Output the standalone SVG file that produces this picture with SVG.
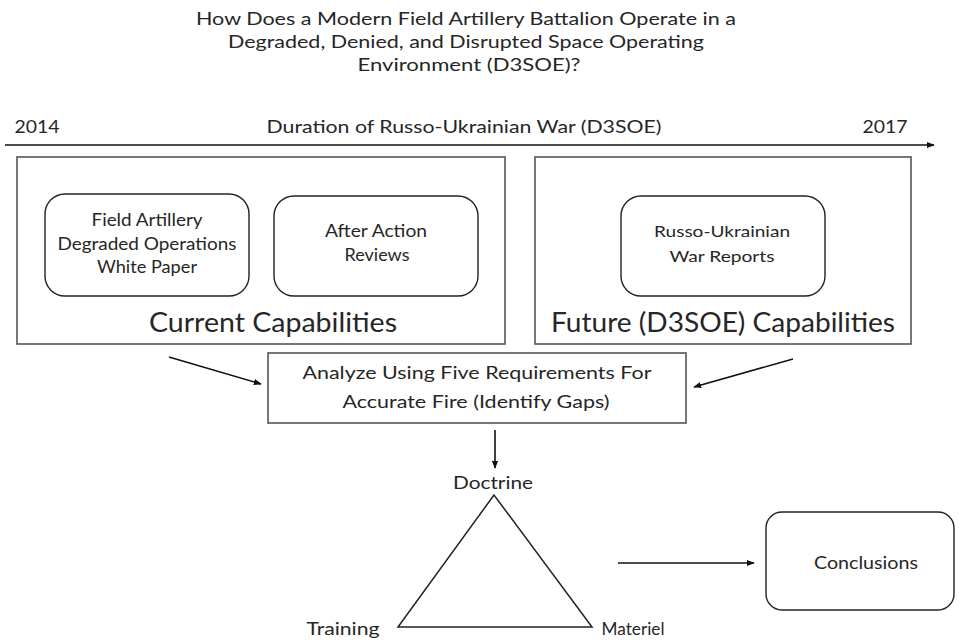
<svg xmlns="http://www.w3.org/2000/svg" width="959" height="640" viewBox="0 0 959 640">
<style>
text{font-family:Lato,"Open Sans","Liberation Sans",sans-serif;fill:#262626;text-anchor:middle}
.t{font-size:18px}
.m{font-size:17px}
.s{font-size:16px}
.big{font-size:27px}
.frame{fill:#fff;stroke:#555;stroke-width:1.6}
.rbox{fill:#fff;stroke:#222;stroke-width:1.4}
.ln{fill:none;stroke:#111;stroke-width:1.6}
</style>
<defs>
<marker id="ah" viewBox="0 0 10 10" refX="9" refY="5" markerWidth="5" markerHeight="5" orient="auto" markerUnits="strokeWidth">
<path d="M0,1 L10,5 L0,9 z" fill="#111"/>
</marker>
</defs>
<rect width="959" height="640" fill="#fff"/>
<g id="title">
<text class="t" x="466" y="25" textLength="540" lengthAdjust="spacingAndGlyphs">How Does a Modern Field Artillery Battalion Operate in a</text>
<text class="t" x="466" y="48" textLength="476" lengthAdjust="spacingAndGlyphs">Degraded, Denied, and Disrupted Space Operating</text>
<text class="t" x="469" y="71" textLength="223" lengthAdjust="spacingAndGlyphs">Environment (D3SOE)?</text>
</g>
<g id="timeline">
<text class="t" x="37" y="133" textLength="45" lengthAdjust="spacingAndGlyphs">2014</text>
<text class="t" x="464" y="133" textLength="395" lengthAdjust="spacingAndGlyphs">Duration of Russo-Ukrainian War (D3SOE)</text>
<text class="t" x="885" y="133" textLength="45" lengthAdjust="spacingAndGlyphs">2017</text>
</g>
<g id="current">
<rect class="frame" x="17" y="157" width="488" height="187"/>
<text class="big" x="273" y="332" textLength="248" lengthAdjust="spacingAndGlyphs">Current Capabilities</text>
</g>
<g id="whitepaper">
<rect class="rbox" x="45" y="194" width="204" height="102" rx="20"/>
<text class="m" x="147" y="226" textLength="111" lengthAdjust="spacingAndGlyphs">Field Artillery</text>
<text class="m" x="147" y="250" textLength="179" lengthAdjust="spacingAndGlyphs">Degraded Operations</text>
<text class="m" x="147" y="273" textLength="100" lengthAdjust="spacingAndGlyphs">White Paper</text>
</g>
<g id="aar">
<rect class="rbox" x="274" y="196" width="204" height="100" rx="20"/>
<text class="m" x="376" y="237" textLength="102" lengthAdjust="spacingAndGlyphs">After Action</text>
<text class="m" x="377" y="261" textLength="65" lengthAdjust="spacingAndGlyphs">Reviews</text>
</g>
<g id="future">
<rect class="frame" x="535" y="157" width="376" height="187"/>
<text class="big" x="723" y="332" textLength="344" lengthAdjust="spacingAndGlyphs">Future (D3SOE) Capabilities</text>
</g>
<g id="reports">
<rect class="rbox" x="621" y="196" width="204" height="100" rx="20"/>
<text class="s" x="722" y="237" textLength="136" lengthAdjust="spacingAndGlyphs">Russo-Ukrainian</text>
<text class="s" x="722" y="262" textLength="105" lengthAdjust="spacingAndGlyphs">War Reports</text>
</g>
<g id="analyze">
<rect class="frame" x="268" y="353" width="418" height="70"/>
<text class="t" x="477" y="379" textLength="349" lengthAdjust="spacingAndGlyphs">Analyze Using Five Requirements For</text>
<text class="t" x="476" y="408" textLength="267" lengthAdjust="spacingAndGlyphs">Accurate Fire (Identify Gaps)</text>
</g>
<g id="triangle">
<polygon points="494,495 398,627 592,627" fill="none" stroke="#222" stroke-width="1.5"/>
<text class="t" x="493" y="489" textLength="80" lengthAdjust="spacingAndGlyphs">Doctrine</text>
<text class="t" x="343" y="635" textLength="73" lengthAdjust="spacingAndGlyphs">Training</text>
<text class="t" x="633" y="635" textLength="63" lengthAdjust="spacingAndGlyphs">Materiel</text>
</g>
<g id="conclusions">
<rect class="rbox" x="766" y="512" width="188" height="98" rx="16"/>
<text class="m" x="866" y="569" textLength="104" lengthAdjust="spacingAndGlyphs">Conclusions</text>
</g>
<g id="connectors">
<line class="ln" x1="5" y1="145" x2="934" y2="145" stroke-width="2" marker-end="url(#ah)"/>
<line class="ln" x1="169" y1="357" x2="261" y2="384" marker-end="url(#ah)"/>
<line class="ln" x1="793" y1="359" x2="694" y2="387" marker-end="url(#ah)"/>
<line class="ln" x1="495" y1="430" x2="495" y2="468" marker-end="url(#ah)"/>
<line class="ln" x1="618" y1="563" x2="754" y2="563" marker-end="url(#ah)"/>
</g>
</svg>
